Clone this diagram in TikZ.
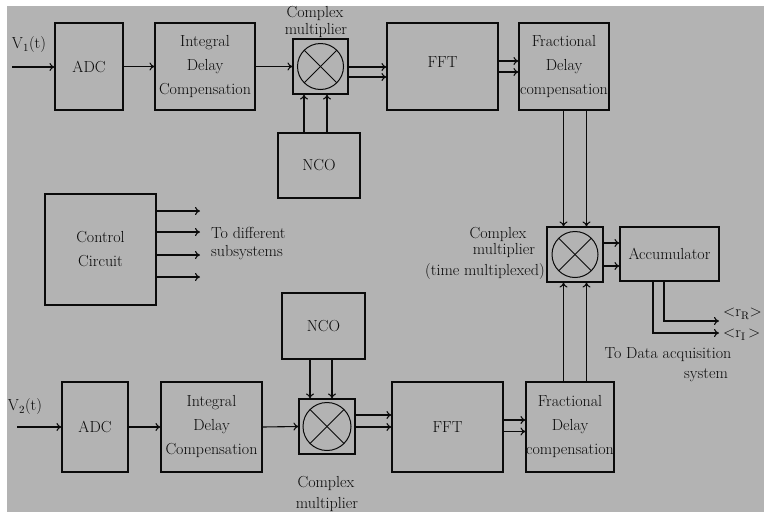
\documentclass[tikz,border=0pt]{standalone}
\usetikzlibrary{arrows.meta,calc}
\definecolor{bg}{RGB}{179,179,179}
\definecolor{ink}{RGB}{10,10,10}
\begin{document}
\begin{tikzpicture}[x=1pt,y=-1pt,
  box/.style={draw=ink, line width=1.1pt, inner sep=0pt, align=center,
    font=\fontsize{16}{24}\selectfont, text=ink},
  arr/.style={draw=ink, line width=1.1pt, -{To[length=5pt,width=8pt]}},
  lbl/.style={font=\fontsize{16}{17}\selectfont, inner sep=0pt, text=ink},
  mult/.style={draw=ink, line width=1.1pt, minimum width=56pt, minimum height=55pt, inner sep=0pt}]
\useasboundingbox (0,0) rectangle (764,512);
\fill[white] (0,0) rectangle (764,512);
\fill[bg] (7,6) rectangle (764,512);

% ---------- top chain ----------
\node[box, minimum width=68pt, minimum height=87pt] (adc1) at (89,66.5) {ADC};
\node[box, minimum width=100pt, minimum height=87pt] (idc1) at (205,66.5) {Integral\\Delay\\Compensation};
\node[mult, minimum width=55pt] (cm1) at (320.5,66.5) {};
\node[box, minimum width=111pt, minimum height=87pt] (fft1) at (442.5,66.5) {\raisebox{9pt}{FFT}};
\node[box, minimum width=90pt, minimum height=87pt] (frac1) at (564,66.5) {Fractional\\Delay\\compensation};
\node[box, minimum width=82pt, minimum height=65pt] (nco1) at (319,165.5) {NCO};
\node[lbl] (v1) at (29,45) {V$_1$(t)};
\coordinate (in1) at (12,67);
\node[lbl] (cm1a) at (315,13) {Complex};
\node[lbl] (cm1b) at (316,31) {multiplier};

\draw[ink, line width=1pt] (cm1.center) circle (23);
\draw[ink, line width=1pt] ($(cm1.center)+(-16.3,-16.3)$) -- ($(cm1.center)+(16.3,16.3)$);
\draw[ink, line width=1pt] ($(cm1.center)+(-16.3,16.3)$) -- ($(cm1.center)+(16.3,-16.3)$);

\coordinate (a1) at ($(cm1.east)+(0,0.5)$);
\coordinate (a2) at ($(cm1.east)+(0,10.5)$);
\coordinate (b1) at ($(fft1.east)+(0,-5.5)$);
\coordinate (b2) at ($(fft1.east)+(0,5.5)$);
\coordinate (n1) at ($(cm1.south)+(-16.5,0)$);
\coordinate (n2) at ($(cm1.south)+(6.5,0)$);

\draw[arr] (in1) -- (in1 -| adc1.west);
\draw[arr] (adc1.east) -- (idc1.west);
\draw[arr] (idc1.east) -- (cm1.west);
\draw[arr] (a1) -- (a1 -| fft1.west);
\draw[arr] (a2) -- (a2 -| fft1.west);
\draw[arr] (b1) -- (b1 -| frac1.west);
\draw[arr] (b2) -- (b2 -| frac1.west);
\draw[arr] (n1 |- nco1.north) -- (n1);
\draw[arr] (n2 |- nco1.north) -- (n2);

% ---------- control ----------
\node[box, minimum width=111pt, minimum height=111pt] (ctrl) at (100.5,249.5) {Control\\Circuit};
\coordinate (c1) at (200,211);
\coordinate (c2) at (200,232);
\coordinate (c3) at (200,255);
\coordinate (c4) at (200,277);
\foreach \c in {c1,c2,c3,c4} \draw[arr] (ctrl.east |- \c) -- (\c);
\node[lbl, anchor=west] (todiff) at (211,233) {To different};
\node[lbl, anchor=west] (subsys) at (211,253) {subsystems};

% ---------- middle ----------
\node[mult] (cm2) at (575,254.5) {};
\node[box, minimum width=99pt, minimum height=54pt] (acc) at (669.5,254) {Accumulator};
\node[lbl] (cm2a) at (498,234) {Complex};
\node[lbl] (cm2b) at (504,251) {multiplier};
\node[lbl] (cm2c) at (485,272) {(time multiplexed)};
\draw[ink, line width=1pt] (cm2.center) circle (23);
\draw[ink, line width=1pt] ($(cm2.center)+(-16.3,-16.3)$) -- ($(cm2.center)+(16.3,16.3)$);
\draw[ink, line width=1pt] ($(cm2.center)+(-16.3,16.3)$) -- ($(cm2.center)+(16.3,-16.3)$);

\coordinate (e1) at ($(cm2.east)+(0,-11.5)$);
\coordinate (e2) at ($(cm2.east)+(0,11.5)$);
\draw[arr] (e1) -- (e1 -| acc.west);
\draw[arr] (e2) -- (e2 -| acc.west);

\coordinate (s1) at ($(acc.south)+(-5.5,0)$);
\coordinate (s2) at ($(acc.south)+(-16.5,0)$);
\coordinate (rR) at (719,321);
\coordinate (rI) at (719,333);
\draw[arr] (s1) |- (rR);
\draw[arr] (s2) |- (rI);
\node[lbl, anchor=west] (lR) at (723,314) {\textless r$_{\mathrm R}$\textgreater};
\node[lbl, anchor=west] (lI) at (723,335) {\textless r$_{\mathrm I}$\,\textgreater};
\node[lbl] (tda) at (668,355) {To Data acquisition};
\node[lbl] (tdb) at (706,375) {system};

% ---------- bottom chain ----------
\node[box, minimum width=66pt, minimum height=90pt] (adc2) at (95,427) {ADC};
\node[box, minimum width=101pt, minimum height=90pt] (idc2) at (211.5,427) {Integral\\Delay\\Compensation};
\node[mult] (cm3) at (327,426.5) {};
\node[box, minimum width=111pt, minimum height=90pt] (fft2) at (447.5,427) {FFT};
\node[box, minimum width=88pt, minimum height=90pt] (frac2) at (570,427) {Fractional\\Delay\\compensation};
\node[box, minimum width=83pt, minimum height=66pt] (nco2) at (323.5,326) {NCO};
\node[lbl] (v2) at (25,407) {V$_2$(t)};
\coordinate (in2) at (17,427);
\node[lbl] (cm3a) at (326,483) {Complex};
\node[lbl] (cm3b) at (327,505) {multiplier};
\draw[ink, line width=1pt] (cm3.center) circle (24);
\draw[ink, line width=1pt] ($(cm3.center)+(-17,-17)$) -- ($(cm3.center)+(17,17)$);
\draw[ink, line width=1pt] ($(cm3.center)+(-17,17)$) -- ($(cm3.center)+(17,-17)$);

\coordinate (f1) at ($(cm3.east)+(0,-11.5)$);
\coordinate (f2) at ($(cm3.east)+(0,0.5)$);
\coordinate (g1) at ($(fft2.east)+(0,-7)$);
\coordinate (g2) at ($(fft2.east)+(0,4.5)$);
\coordinate (m1) at ($(cm3.north)+(-17,0)$);
\coordinate (m2) at ($(cm3.north)+(5,0)$);

\draw[arr] (in2) -- (in2 -| adc2.west);
\draw[arr] (adc2.east) -- (idc2.west);
\draw[arr] (idc2.east) -- (cm3.west);
\draw[arr] (f1) -- (f1 -| fft2.west);
\draw[arr] (f2) -- (f2 -| fft2.west);
\draw[arr] (g1) -- (g1 -| frac2.west);
\draw[arr] (g2) -- (g2 -| frac2.west);
\draw[arr] (m1 |- nco2.south) -- (m1);
\draw[arr] (m2 |- nco2.south) -- (m2);

% ---------- fractional delay to middle multiplier ----------
\coordinate (t1) at ($(cm2.north)+(-11.5,0)$);
\coordinate (t2) at ($(cm2.north)+(11.5,0)$);
\coordinate (u1) at ($(cm2.south)+(-11.5,0)$);
\coordinate (u2) at ($(cm2.south)+(11.5,0)$);
\draw[arr] (t1 |- frac1.south) -- (t1);
\draw[arr] (t2 |- frac1.south) -- (t2);
\draw[arr] (u1 |- frac2.north) -- (u1);
\draw[arr] (u2 |- frac2.north) -- (u2);
\end{tikzpicture}
\end{document}
